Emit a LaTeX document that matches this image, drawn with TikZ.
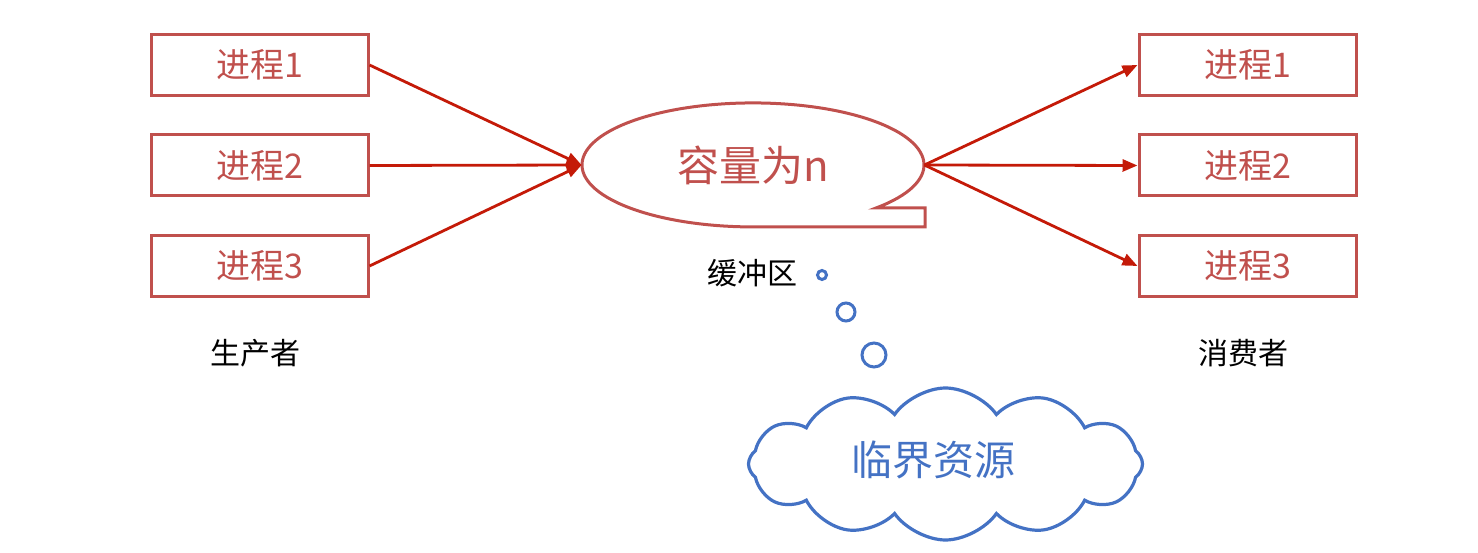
\documentclass[tikz,border=0pt]{standalone}
\usepackage{fontspec}
\setmainfont{Noto Sans CJK SC}
\usepackage{tikz}
\usetikzlibrary{arrows.meta, shapes.geometric, shapes.symbols}
\definecolor{boxred}{HTML}{C0504D}
\definecolor{arrred}{HTML}{C41A08}
\definecolor{cloudblue}{HTML}{4472C4}

\begin{document}
\begin{tikzpicture}[x=0.5pt, y=0.5pt,
		proc/.style={draw=boxred, line width=1.5pt, text=boxred, minimum width=108.5pt, minimum height=30.5pt, inner sep=0pt, font=\fontsize{17}{20}\selectfont},
		feed/.style={draw=arrred, line width=1.4pt, -{Triangle[length=7.5pt, width=6pt]}},
		caption/.style={font=\fontsize{15}{18}\selectfont},
		bubble/.style={circle, draw=cloudblue, line width=1.5pt, inner sep=0pt}]
		\useasboundingbox (0,0) rectangle (1478,552);
		\node (prod1) at (259.5,487) [proc] {进程1};
		\node (prod2) at (259.5,386.5) [proc] {进程2};
		\node (prod3) at (259.5,286) [proc] {进程3};
		\node (cons1) at (1247.5,487) [proc] {进程1};
		\node (cons2) at (1247.5,386.5) [proc] {进程2};
		\node (cons3) at (1247.5,286) [proc] {进程3};
		\node (buf) at (753,387) [ellipse, minimum width=171pt, minimum height=62pt, inner sep=0pt, text=boxred, font=\fontsize{21}{24}\selectfont] {容量为n};
		\draw[boxred, line width=1.5pt] (753,325) -- (925,325) -- (925,344) -- (876,344)
			arc[start angle=-44, end angle=270, x radius=171, y radius=62] -- cycle;
		\node (buflabel) at (752,279) [caption] {缓冲区};
		\node (prodlabel) at (255,199) [caption] {生产者};
		\node (conslabel) at (1243,199) [caption] {消费者};
		\draw[feed] (prod1.east) -- (buf.west);
		\draw[feed] (prod2.east) -- (buf.west);
		\draw[feed] (prod3.east) -- (buf.west);
		\draw[feed] (buf.east) -- (cons1.west);
		\draw[feed] (buf.east) -- (cons2.west);
		\draw[feed] (buf.east) -- (cons3.west);
		\node (bub1) at (822,277) [bubble, minimum size=4.5pt] {};
		\node (bub2) at (846,240) [bubble, minimum size=9pt] {};
		\node (bub3) at (874,197) [bubble, minimum size=12pt] {};
		\node (crit) at (945.5,88) [cloud, cloud puffs=12, cloud puff arc=110, aspect=2.6, draw=cloudblue, line width=1.6pt, minimum width=197pt, minimum height=76pt, inner sep=0pt] {};
		\node (critlabel) at (933,92) [text=cloudblue, font=\fontsize{20.5}{24}\selectfont] {临界资源};
\end{tikzpicture}
\end{document}
